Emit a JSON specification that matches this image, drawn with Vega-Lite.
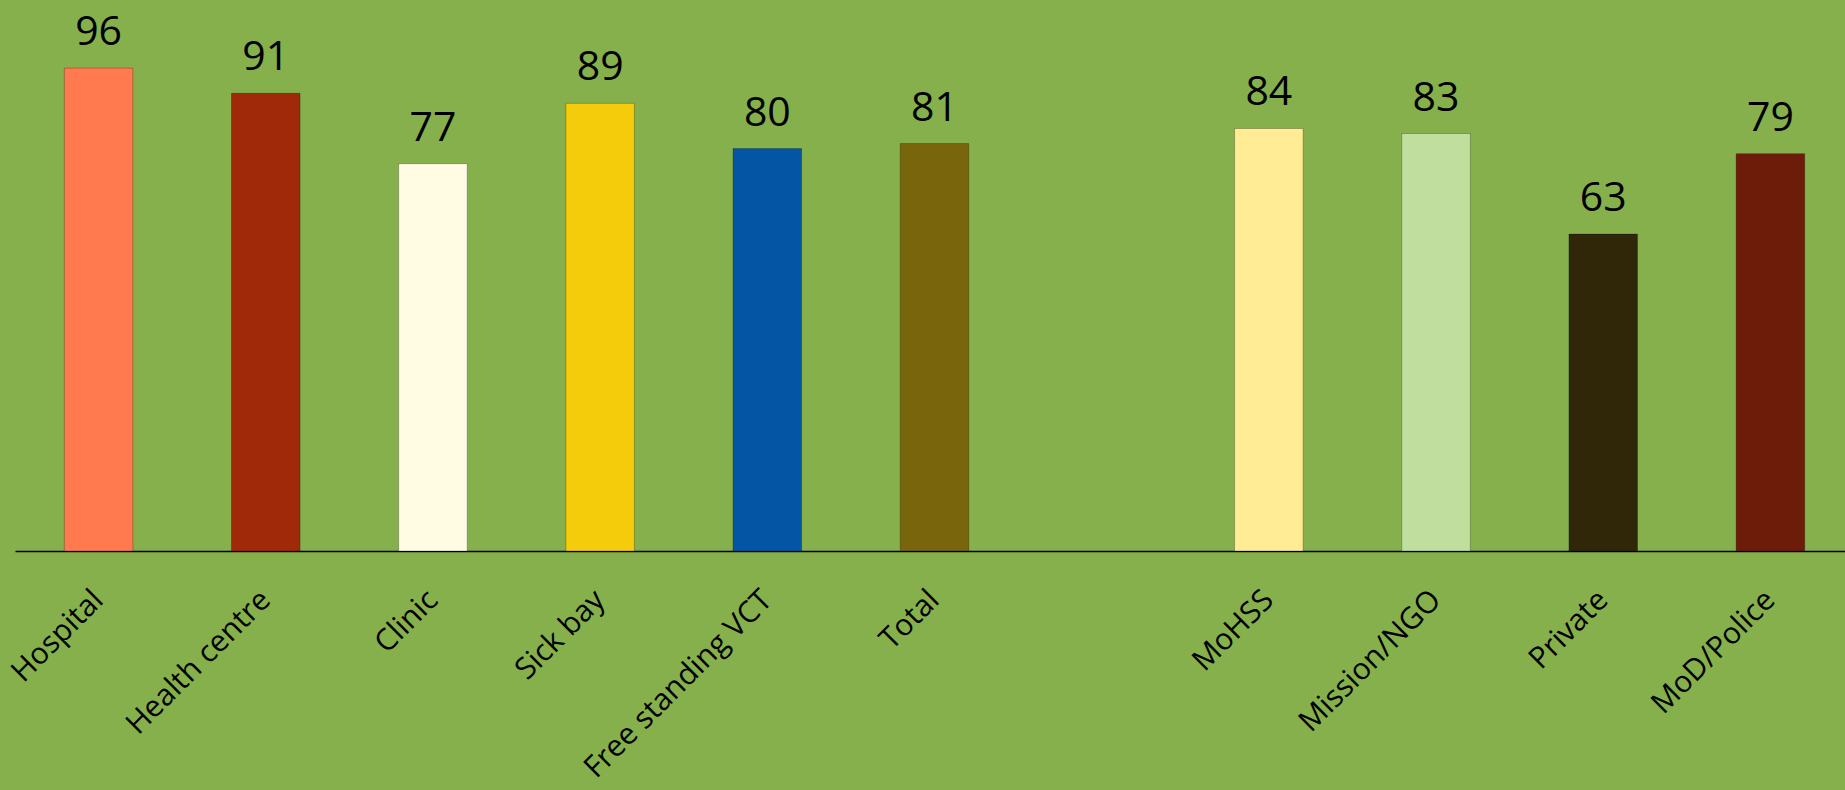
{
  "$schema": "https://vega.github.io/schema/vega-lite/v6.json",
  "autosize": {"type": "none"},
  "padding": {"left": 15, "top": 48, "right": 0, "bottom": 239},
  "width": 1839,
  "height": 503,
  "background": "#86B04C",
  "config": {"view": {"stroke": null}, "font": "Open Sans"},
  "data": {"values": [
    {"cat": "Hospital", "value": 96, "color": "#FF7B4F"},
    {"cat": "Health centre", "value": 91, "color": "#A0290A"},
    {"cat": "Clinic", "value": 77, "color": "#FFFCE3"},
    {"cat": "Sick bay", "value": 89, "color": "#F5CC0C"},
    {"cat": "Free standing VCT", "value": 80, "color": "#0455A3"},
    {"cat": "Total", "value": 81, "color": "#79650B"},
    {"cat": "MoHSS", "value": 84, "color": "#FFEC94"},
    {"cat": "Mission/NGO", "value": 83, "color": "#C0DF9F"},
    {"cat": "Private", "value": 63, "color": "#302608"},
    {"cat": "MoD/Police", "value": 79, "color": "#6E1C0A"}
  ]},
  "encoding": {
    "x": {
      "field": "cat", "type": "nominal",
      "scale": {"domain": ["Hospital", "Health centre", "Clinic", "Sick bay", "Free standing VCT", "Total", " ", "MoHSS", "Mission/NGO", "Private", "MoD/Police"], "paddingInner": 0.59, "paddingOuter": 0.295},
      "axis": {"title": null, "labelAngle": -45, "labelAlign": "right", "labelBaseline": "middle", "labelFontSize": 30, "labelColor": "#000000", "labelPadding": 44, "labelLimit": 1000, "ticks": false, "domainColor": "#000000", "domainWidth": 1.5, "labelFont": "Open Sans"}
    },
    "y": {"field": "value", "type": "quantitative", "scale": {"domain": [0, 100]}, "axis": null}
  },
  "layer": [
    {"mark": {"type": "bar", "stroke": "#000000", "strokeOpacity": 0.25, "strokeWidth": 1}, "encoding": {"color": {"field": "color", "type": "nominal", "scale": null}}},
    {"mark": {"type": "text", "baseline": "alphabetic", "dy": -23, "fontSize": 41, "color": "#000000", "font": "Open Sans"}, "encoding": {"text": {"field": "value", "type": "quantitative"}}}
  ]
}
